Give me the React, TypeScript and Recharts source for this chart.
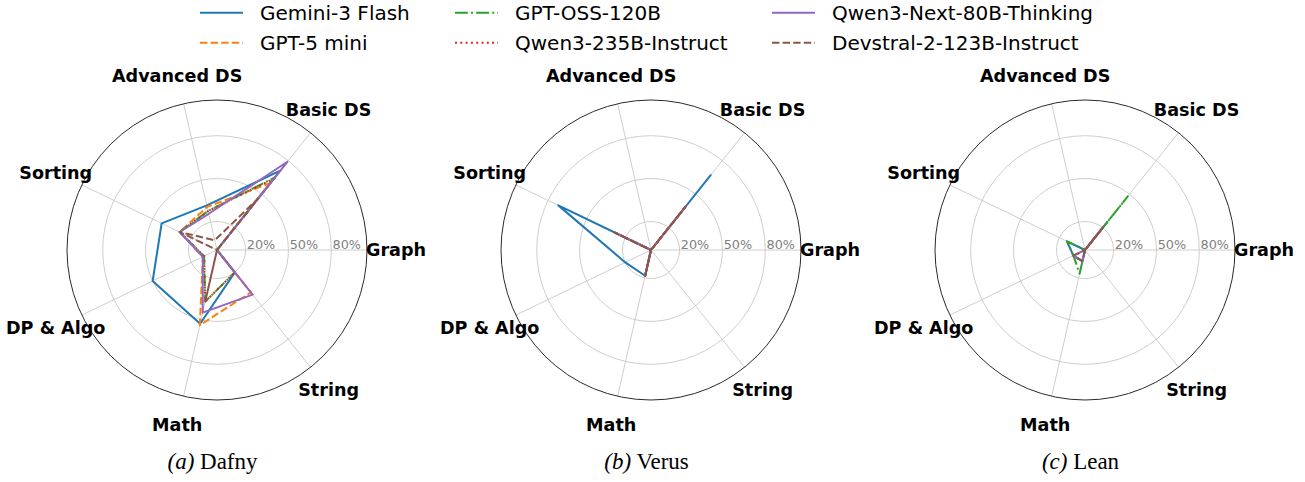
import React from "react";
import { RadarChart, Radar, PolarGrid, PolarAngleAxis, PolarRadiusAxis } from "recharts";

const categories = ["Graph", "Basic DS", "Advanced DS", "Sorting", "DP & Algo", "Math", "String"];
const models = [
  "Gemini-3 Flash",
  "GPT-5 mini",
  "GPT-OSS-120B",
  "Qwen3-235B-Instruct",
  "Qwen3-Next-80B-Thinking",
  "Devstral-2-123B-Instruct",
];
const ringTicks = [20, 50, 80];

// Dafny (values in %, category order above)
const dafnyGemini = [0, 71, 32, 43, 50, 53, 20];
const dafnyGpt5mini = [0, 60, 31, 29, 11, 54, 38];
const dafnyOss = [0, 65, 28, 29, 10, 37, 20];
const dafnyQwen235 = [0, 64, 28, 29, 10, 37, 20];
const dafnyQwenNext = [0, 79, 26, 29, 11, 45, 40];
const dafnyDevstral = [0, 46, 7, 29, 0, 37, 0];

// Verus
const verusGemini = [0, 67, 0, 72, 20, 18.5, 0];
const verusGpt5mini = [0, 39, 0, 28, 0, 18.5, 0];
const verusOss = [0, 39, 0, 28, 0, 18.5, 0];
const verusQwen235 = [0, 39, 0, 28, 0, 18.5, 0];
const verusQwenNext = [0, 39, 0, 28, 0, 18.5, 0];
const verusDevstral = [0, 39, 0, 28, 0, 18.5, 0];

// Lean
const leanGemini = [0, 25, 0, 14, 9, 8, 0];
const leanGpt5mini = [0, 20, 0, 0, 0, 0, 0];
const leanOss = [0, 48, 0, 14, 9, 17, 0];
const leanQwen235 = [0, 20, 0, 0, 0, 0, 0];
const leanQwenNext = [0, 20, 0, 0, 9, 8, 0];
const leanDevstral = [0, 20, 0, 0, 9, 8, 0];

const colors = ["#1f77b4", "#ff7f0e", "#2ca02c", "#d62728", "#9467bd", "#8c564b"];
const dashes = [undefined, "7.4 3.2", "12.8 3.2 2 3.2", "2 3.3", undefined, "7.4 3.2"];

const R = 150;
const LABEL_R = 179;
const CY = 250;
const PW = 434;
const PH = 400;
const STEP = 360 / 7;
// series points land one step after startAngle here, so start one step back to put Graph at 0deg
const START = -STEP;

const panels = [
  { tag: "(a)", name: "Dafny", cx: 217, series: [dafnyGemini, dafnyGpt5mini, dafnyOss, dafnyQwen235, dafnyQwenNext, dafnyDevstral] },
  { tag: "(b)", name: "Verus", cx: 651, series: [verusGemini, verusGpt5mini, verusOss, verusQwen235, verusQwenNext, verusDevstral] },
  { tag: "(c)", name: "Lean", cx: 1085, series: [leanGemini, leanGpt5mini, leanOss, leanQwen235, leanQwenNext, leanDevstral] },
];

const buildRows = (series: number[][]) =>
  categories.map((c, i) => {
    const row: Record<string, string | number> = { cat: c };
    series.forEach((vals, j) => (row["s" + j] = vals[i]));
    return row;
  });

// label placed on its own category spoke (same spacing as the series points)
const CatTick = (props: any) => {
  const { payload } = props;
  const i = categories.indexOf(payload.value);
  const a = (i * STEP * Math.PI) / 180;
  const x = PW / 2 + LABEL_R * Math.cos(a);
  const y = PH / 2 - LABEL_R * Math.sin(a);
  return (
    <text x={x} y={y} dy="0.36em" textAnchor="middle" fontFamily="DejaVu Sans" fontWeight="bold" fontSize={17.6} fill="#000">
      {payload.value}
    </text>
  );
};

const RingTick = (props: any) => {
  const { x, y, payload } = props;
  return (
    <text x={x + 1.2} y={y - 1.5} textAnchor="start" fontFamily="DejaVu Sans" fontSize={12.8} fill="#808080">
      {payload.value}%
    </text>
  );
};

const Panel = ({ cx, series }: { cx: number; series: number[][] }) => {
  const rows = buildRows(series);
  return (
    <div style={{ position: "absolute", left: cx - PW / 2, top: CY - PH / 2 }}>
      <RadarChart width={PW} height={PH} data={rows} cx={PW / 2} cy={PH / 2} outerRadius={R} startAngle={START} endAngle={360 + START}>
        <PolarGrid gridType="circle" polarRadius={ringTicks.map((t) => (t / 105) * R)} stroke="#c8c8c8" strokeWidth={0.9} />
        <PolarAngleAxis
          dataKey="cat"
          tick={CatTick}
          tickLine={false}
          axisLineType="circle"
          axisLine={{ stroke: "#2a2a2a", strokeWidth: 1 }}
        />
        <PolarRadiusAxis angle={0} type="number" domain={[0, 105]} ticks={ringTicks} axisLine={false} tick={RingTick} />
        {series.map((_, j) => (
          <Radar
            key={j}
            dataKey={"s" + j}
            stroke={colors[j]}
            strokeWidth={2}
            strokeDasharray={dashes[j]}
            strokeLinejoin="round"
            fill="none"
            fillOpacity={0}
            dot={false}
            isAnimationActive={false}
          />
        ))}
      </RadarChart>
    </div>
  );
};

const legendCols = [200, 455, 772];
const legendRows = [12.7, 42.7];

export default function App() {
  return (
    <div style={{ position: "absolute", left: 0, top: 0, width: 1305, height: 482, background: "#fff", overflow: "hidden" }}>
      {panels.map((p) => (
        <Panel key={p.name} cx={p.cx} series={p.series} />
      ))}
      <svg width={1305} height={482} style={{ position: "absolute", left: 0, top: 0, pointerEvents: "none" }}>
        {models.map((m, j) => {
          const x = legendCols[Math.floor(j / 2)];
          const y = legendRows[j % 2];
          return (
            <g key={m}>
              <line x1={x} x2={x + 43} y1={y} y2={y} stroke={colors[j]} strokeWidth={2} strokeDasharray={dashes[j]} />
              <text x={x + 60} y={y} dy="0.36em" fontFamily="DejaVu Sans" fontSize={20} fill="#000">
                {m}
              </text>
            </g>
          );
        })}
        {panels.map((p) => (
          <text key={p.tag} x={p.cx - 4.5} y={469} textAnchor="middle" fontFamily="Liberation Serif" fontSize={23} fill="#000">
            <tspan fontStyle="italic">{p.tag}</tspan> {p.name}
          </text>
        ))}
      </svg>
    </div>
  );
}
